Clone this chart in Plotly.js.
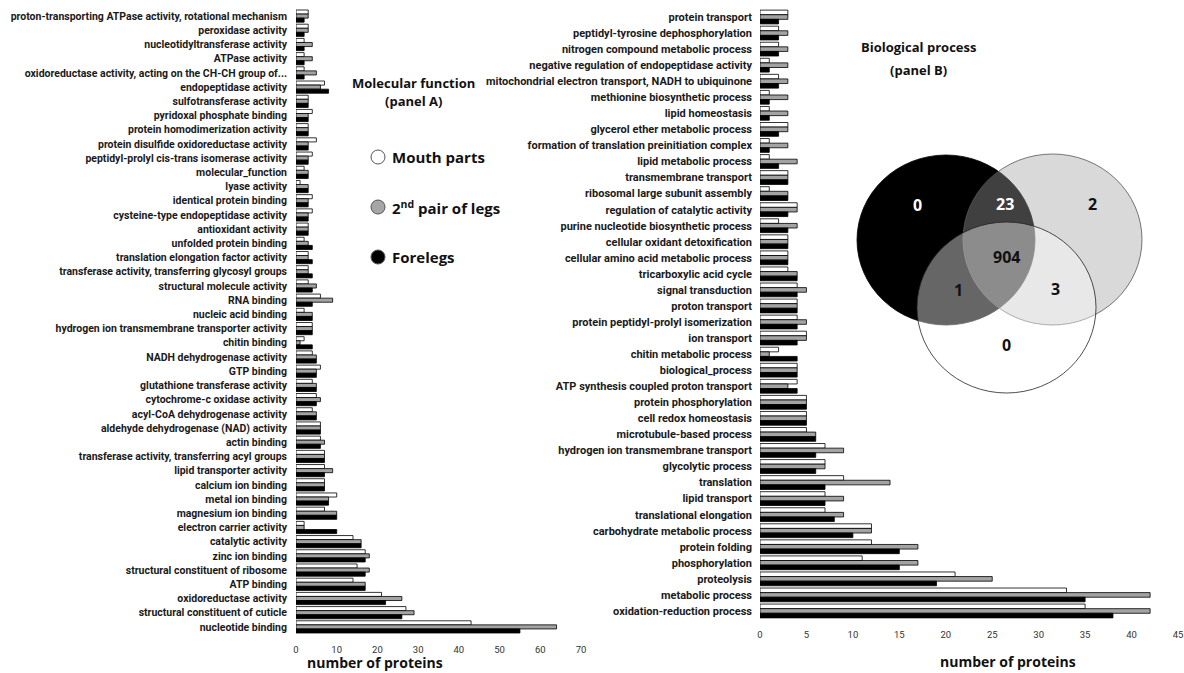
<!DOCTYPE html>
<html>
<head>
<meta charset="utf-8">
<script src="https://cdn.plot.ly/plotly-3.0.1.min.js"></script>
<style>html,body{margin:0;padding:0;background:#fff;}#chart{width:1184px;height:673px;}</style>
</head>
<body>
<div id="chart"></div>
<script>
// ---------- Panel A: Molecular function ----------
const mfCategories = [
  "proton-transporting ATPase activity, rotational mechanism",
  "peroxidase activity",
  "nucleotidyltransferase activity",
  "ATPase activity",
  "oxidoreductase activity, acting on the CH-CH group of...",
  "endopeptidase activity",
  "sulfotransferase activity",
  "pyridoxal phosphate binding",
  "protein homodimerization activity",
  "protein disulfide oxidoreductase activity",
  "peptidyl-prolyl cis-trans isomerase activity",
  "molecular_function",
  "lyase activity",
  "identical protein binding",
  "cysteine-type endopeptidase activity",
  "antioxidant activity",
  "unfolded protein binding",
  "translation elongation factor activity",
  "transferase activity, transferring glycosyl groups",
  "structural molecule activity",
  "RNA binding",
  "nucleic acid binding",
  "hydrogen ion transmembrane transporter activity",
  "chitin binding",
  "NADH dehydrogenase activity",
  "GTP binding",
  "glutathione transferase activity",
  "cytochrome-c oxidase activity",
  "acyl-CoA dehydrogenase activity",
  "aldehyde dehydrogenase (NAD) activity",
  "actin binding",
  "transferase activity, transferring acyl groups",
  "lipid transporter activity",
  "calcium ion binding",
  "metal ion binding",
  "magnesium ion binding",
  "electron carrier activity",
  "catalytic activity",
  "zinc ion binding",
  "structural constituent of ribosome",
  "ATP binding",
  "oxidoreductase activity",
  "structural constituent of cuticle",
  "nucleotide binding"
];
const mfMouth    = [3,3,2,2,2,7,3,4,3,5,4,2,1,4,4,3,2,3,3,3,6,2,4,2,4,6,4,5,4,6,6,7,7,7,10,7,2,14,17,15,14,21,27,43];
const mfSecond   = [3,3,4,4,5,6,3,3,3,3,3,3,3,3,3,3,3,3,3,5,9,4,4,1,5,5,5,6,5,6,7,7,9,7,8,10,2,16,18,18,17,26,29,64];
const mfForelegs = [2,2,2,2,2,8,3,3,3,3,3,3,3,3,3,3,4,4,4,4,4,4,4,4,5,5,5,5,5,6,6,7,7,7,8,10,10,16,17,17,17,22,26,55];

// ---------- Panel B: Biological process ----------
const bpCategories = [
  "protein transport",
  "peptidyl-tyrosine dephosphorylation",
  "nitrogen compound metabolic process",
  "negative regulation of endopeptidase activity",
  "mitochondrial electron transport, NADH to ubiquinone",
  "methionine biosynthetic process",
  "lipid homeostasis",
  "glycerol ether metabolic process",
  "formation of translation preinitiation complex",
  "lipid metabolic process",
  "transmembrane transport",
  "ribosomal large subunit assembly",
  "regulation of catalytic activity",
  "purine nucleotide biosynthetic process",
  "cellular oxidant detoxification",
  "cellular amino acid metabolic process",
  "tricarboxylic acid cycle",
  "signal transduction",
  "proton transport",
  "protein peptidyl-prolyl isomerization",
  "ion transport",
  "chitin metabolic process",
  "biological_process",
  "ATP synthesis coupled proton transport",
  "protein phosphorylation",
  "cell redox homeostasis",
  "microtubule-based process",
  "hydrogen ion transmembrane transport",
  "glycolytic process",
  "translation",
  "lipid transport",
  "translational elongation",
  "carbohydrate metabolic process",
  "protein folding",
  "phosphorylation",
  "proteolysis",
  "metabolic process",
  "oxidation-reduction process"
];
const bpMouth    = [3,2,2,1,2,1,1,3,1,1,3,1,4,2,3,3,3,4,4,4,5,2,4,4,5,5,5,7,7,9,7,7,12,12,11,21,33,35];
const bpSecond   = [3,3,3,3,3,3,3,3,3,4,3,3,4,4,3,3,4,5,4,5,5,1,4,3,5,5,6,9,7,14,9,9,12,17,17,25,42,42];
const bpForelegs = [2,2,2,1,2,1,1,2,1,2,3,3,3,3,3,3,4,4,4,4,4,4,4,4,5,5,6,6,6,7,7,8,10,15,15,19,35,38];

// ---------- Venn diagram counts ----------
const vennLabels = ["0","23","2","904","1","3","0"];

const seriesNames = ["Mouth parts", "2nd pair of legs", "Forelegs"];
const W = 1184, H = 673;
const px = x => x / W;
const py = y => 1 - y / H;

const fills = ["#ffffff", "#a3a3a3", "#000000"];
function bars(cats, vals, idx, xa, ya) {
  return {
    type: "bar", orientation: "h", y: cats, x: vals, name: seriesNames[idx],
    xaxis: xa, yaxis: ya, showlegend: false, hoverinfo: "x+y",
    marker: {color: fills[idx], line: {color: "#000", width: 0.8}}
  };
}
const data = [
  bars(mfCategories, mfMouth, 0, "x", "y"),
  bars(mfCategories, mfSecond, 1, "x", "y"),
  bars(mfCategories, mfForelegs, 2, "x", "y"),
  bars(bpCategories, bpMouth, 0, "x2", "y2"),
  bars(bpCategories, bpSecond, 1, "x2", "y2"),
  bars(bpCategories, bpForelegs, 2, "x2", "y2")
];

const tickFontX = {family: "Roboto, sans-serif", size: 9.5, color: "#333"};
const layout = {
  width: W, height: H,
  margin: {l: 0, r: 0, t: 0, b: 0},
  paper_bgcolor: "#fff", plot_bgcolor: "rgba(0,0,0,0)",
  barmode: "group", bargap: 0.14, bargroupgap: 0,
  font: {family: "Roboto, sans-serif", color: "#111"},
  xaxis: {domain: [px(296), px(581)], range: [0, 70], dtick: 10, showgrid: false, zeroline: false,
          showline: false, ticks: "", ticklabelstandoff: 8, tickfont: tickFontX, fixedrange: true},
  yaxis: {domain: [py(634), py(9)], type: "category", categoryarray: mfCategories, categoryorder: "array",
          range: [mfCategories.length - 0.5, -0.5], showgrid: false, zeroline: false, showline: false, ticks: "",
          ticklabelstandoff: 8,
          tickfont: {family: "Roboto, sans-serif", size: 10.5, color: "#1a1a1a", weight: "bold"}, fixedrange: true},
  xaxis2: {domain: [px(760), px(1178)], range: [0, 45], dtick: 5, showgrid: false, zeroline: false,
           showline: false, ticks: "", ticklabelstandoff: 8, tickfont: tickFontX, anchor: "y2", fixedrange: true},
  yaxis2: {domain: [py(619), py(9)], type: "category", categoryarray: bpCategories, categoryorder: "array",
           range: [bpCategories.length - 0.5, -0.5], showgrid: false, zeroline: false, showline: false, ticks: "",
           ticklabelstandoff: 7, anchor: "x2",
           tickfont: {family: "Roboto, sans-serif", size: 11, color: "#1a1a1a", weight: "bold"}, fixedrange: true},
  shapes: [], annotations: []
};

const bold = (t, x, y, size, color, anchor) => ({
  text: t, x: px(x), y: py(y), xref: "paper", yref: "paper", showarrow: false,
  xanchor: anchor || "center", yanchor: "middle",
  font: {family: "Open Sans, sans-serif", size: size, color: color || "#111", weight: "bold"}
});

// axis titles and panel titles
layout.annotations.push(bold("number of proteins", 375, 662, 14));
layout.annotations.push(bold("number of proteins", 1008, 661, 14));
layout.annotations.push(bold("Molecular function", 413, 83, 13));
layout.annotations.push(bold("(panel A)", 413, 101, 13));
layout.annotations.push(bold("Biological process", 918, 47, 13));
layout.annotations.push(bold("(panel B)", 918, 70, 13));

// legend (circles + text)
const legY = [157, 207, 257];
const legText = ["Mouth parts", "2<sup>nd</sup> pair of legs", "Forelegs"];
legY.forEach((y, i) => {
  layout.shapes.push({type: "circle", xref: "paper", yref: "paper",
    x0: px(371), x1: px(385), y0: py(y + 7), y1: py(y - 7),
    fillcolor: fills[i] === "#a3a3a3" ? "#a6a6a6" : fills[i], line: {color: "#555", width: 1}});
  layout.annotations.push(bold(legText[i], 390, y, 15, "#111", "left"));
});

// Venn circles
const venn = [
  {x0: 857, x1: 1035, y0: 155, y1: 325, fill: "#000000", line: "#000000"},
  {x0: 963, x1: 1142, y0: 154, y1: 325, fill: "rgba(160,160,160,0.4)", line: "#555"},
  {x0: 917, x1: 1096, y0: 222, y1: 393, fill: "rgba(255,255,255,0.4)", line: "#222"}
];
venn.forEach(c => layout.shapes.push({type: "circle", xref: "paper", yref: "paper",
  x0: px(c.x0), x1: px(c.x1), y0: py(c.y1), y1: py(c.y0), fillcolor: c.fill, line: {color: c.line, width: 0.8}}));
const vennPos = [[917, 205, "#fff"], [1005, 204, "#fff"], [1092, 204, "#111"], [1006, 257, "#111"],
                 [958, 290, "#111"], [1055, 289, "#111"], [1006, 345, "#111"]];
vennLabels.forEach((t, i) => layout.annotations.push(bold(t, vennPos[i][0], vennPos[i][1], 16, vennPos[i][2])));

Plotly.newPlot("chart", data, layout, {displayModeBar: false, staticPlot: true});
</script>
</body>
</html>
